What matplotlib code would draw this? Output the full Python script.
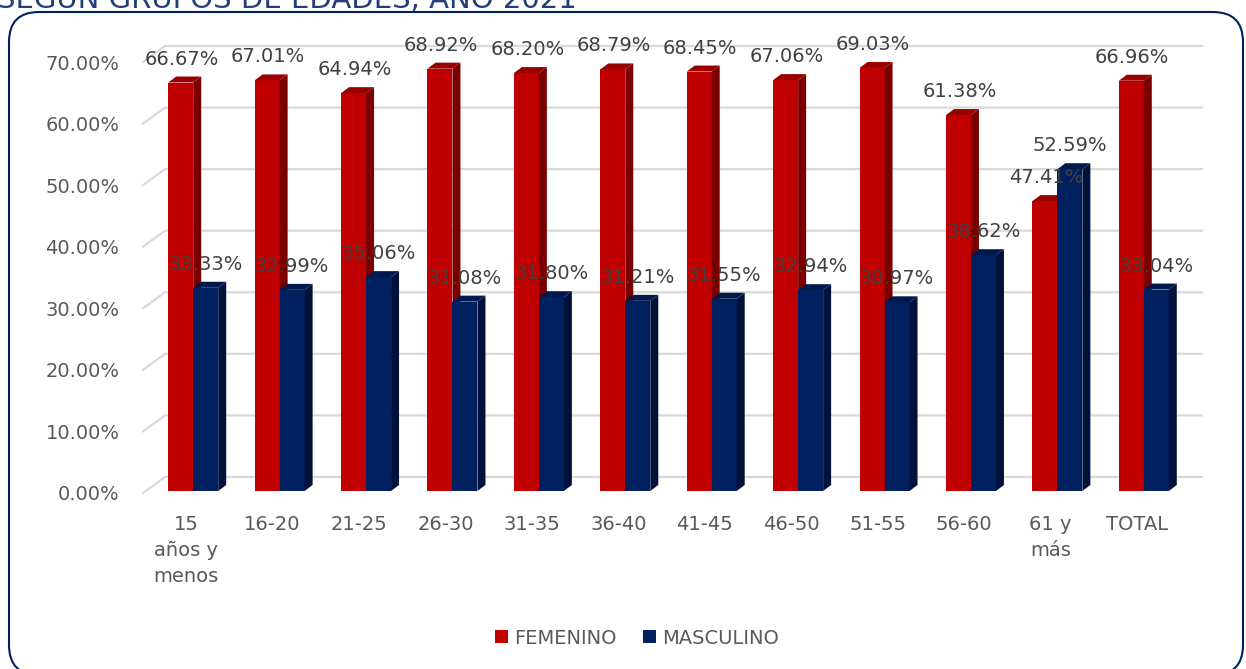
import numpy as np
import matplotlib
matplotlib.use("Agg")
import matplotlib.pyplot as plt
from matplotlib.patches import Polygon, Patch, FancyBboxPatch

# Datos del gráfico
grupos = ["15\naños y\nmenos", "16-20", "21-25", "26-30", "31-35", "36-40",
          "41-45", "46-50", "51-55", "56-60", "61 y\nmás", "TOTAL"]
femenino = [66.67, 67.01, 64.94, 68.92, 68.20, 68.79, 68.45, 67.06, 69.03, 61.38, 47.41, 66.96]
masculino = [33.33, 32.99, 35.06, 31.08, 31.80, 31.21, 31.55, 32.94, 30.97, 38.62, 52.59, 33.04]
series = ["FEMENINO", "MASCULINO"]
yticks = [0, 10, 20, 30, 40, 50, 60, 70]
titulo = "SEGÚN GRUPOS DE EDADES, AÑO 2021"

# Colores (cara frontal, lateral, superior)
rojo = ("#C00000", "#7A0000", "#9A0000")
azul = ("#002060", "#00123A", "#001A4E")
gris_txt = "#595959"
gris_lbl = "#404040"

W, H = 1246, 669
fig = plt.figure(figsize=(W / 100, H / 100), dpi=100)
ax = fig.add_axes([143 / W, 176 / H, 1037 / W, 431 / H])
ax.set_xlim(-0.5, 11.5)
ax.set_ylim(0, 70)

# pixeles por unidad de datos
px_x = 1037 / 12
px_y = 431 / 70

# efecto 3D
ancho = 25 / px_x
dx, dy = 8 / px_x, 6 / px_y
off_x, off_y = 7 / px_x, 2 / px_y
gdx, gdy = 22 / px_x, 16 / px_y

# lineas de la cuadricula (pared de fondo)
for t in yticks:
    ax.plot([-0.5, -0.5 + gdx, 11.5 + gdx], [t, t + gdy, t + gdy],
            color="#D9D9D9", lw=1.6, zorder=0, clip_on=False)


def barra_3d(x0, v, colores):
    x1 = x0 + ancho
    y0 = off_y
    frente = Polygon([(x0, y0), (x1, y0), (x1, v), (x0, v)], closed=True,
                     facecolor=colores[0], edgecolor="none", zorder=2)
    lado = Polygon([(x1, y0), (x1 + dx, y0 + dy), (x1 + dx, v + dy), (x1, v)], closed=True,
                   facecolor=colores[1], edgecolor="none", zorder=2)
    tapa = Polygon([(x0, v), (x1, v), (x1 + dx, v + dy), (x0 + dx, v + dy)], closed=True,
                   facecolor=colores[2], edgecolor="none", zorder=2)
    for p in (frente, lado, tapa):
        p.set_clip_on(False)
        ax.add_patch(p)


x = np.arange(len(grupos))
for i in x:
    base = i + off_x
    barra_3d(base - ancho, femenino[i], rojo)
    barra_3d(base, masculino[i], azul)
    ax.text(base - ancho / 2 + 1 / px_x, femenino[i] + off_y + 16 / px_y, f"{femenino[i]:.2f}%",
            ha="center", va="baseline", fontsize=14, color=gris_lbl, zorder=5, clip_on=False)
    ax.text(base + ancho / 2, masculino[i] + off_y + 16 / px_y, f"{masculino[i]:.2f}%",
            ha="center", va="baseline", fontsize=14, color=gris_lbl, zorder=5, clip_on=False)

ax.set_yticks(yticks)
ax.set_yticklabels([f"{t:.2f}%" for t in yticks])
ax.set_xticks(x)
ax.set_xticklabels(grupos)
ax.tick_params(axis="y", length=0, pad=17, labelsize=14, labelcolor=gris_txt)
ax.tick_params(axis="x", length=0, pad=16, labelsize=14, labelcolor=gris_txt)
plt.setp(ax.get_xticklabels(), linespacing=1.45)
for s in ax.spines.values():
    s.set_visible(False)

# leyenda
handles = [Patch(facecolor=rojo[0]), Patch(facecolor=azul[0])]
fig.legend(handles, series, loc="center", bbox_to_anchor=(637 / W, 1 - 638 / H), ncol=2,
           frameon=False, fontsize=14, handlelength=0.65, handleheight=0.65,
           handletextpad=0.3, columnspacing=1.4, labelcolor=gris_txt)

# marco redondeado
marco = FancyBboxPatch((9 / 100, -6 / 100), (1243 - 9) / 100, (H - 12 + 6) / 100,
                       boxstyle="round,pad=0,rounding_size=0.3",
                       transform=fig.dpi_scale_trans, facecolor="none",
                       edgecolor="#002060", lw=1.5)
fig.patches.append(marco)

# titulo (cortado en el borde superior, como en la imagen original)
fig.text(-3 / W, 1 - 8 / H, titulo, ha="left", va="baseline", fontsize=21, color="#233E7A")

fig.savefig("out.png", dpi=100)
